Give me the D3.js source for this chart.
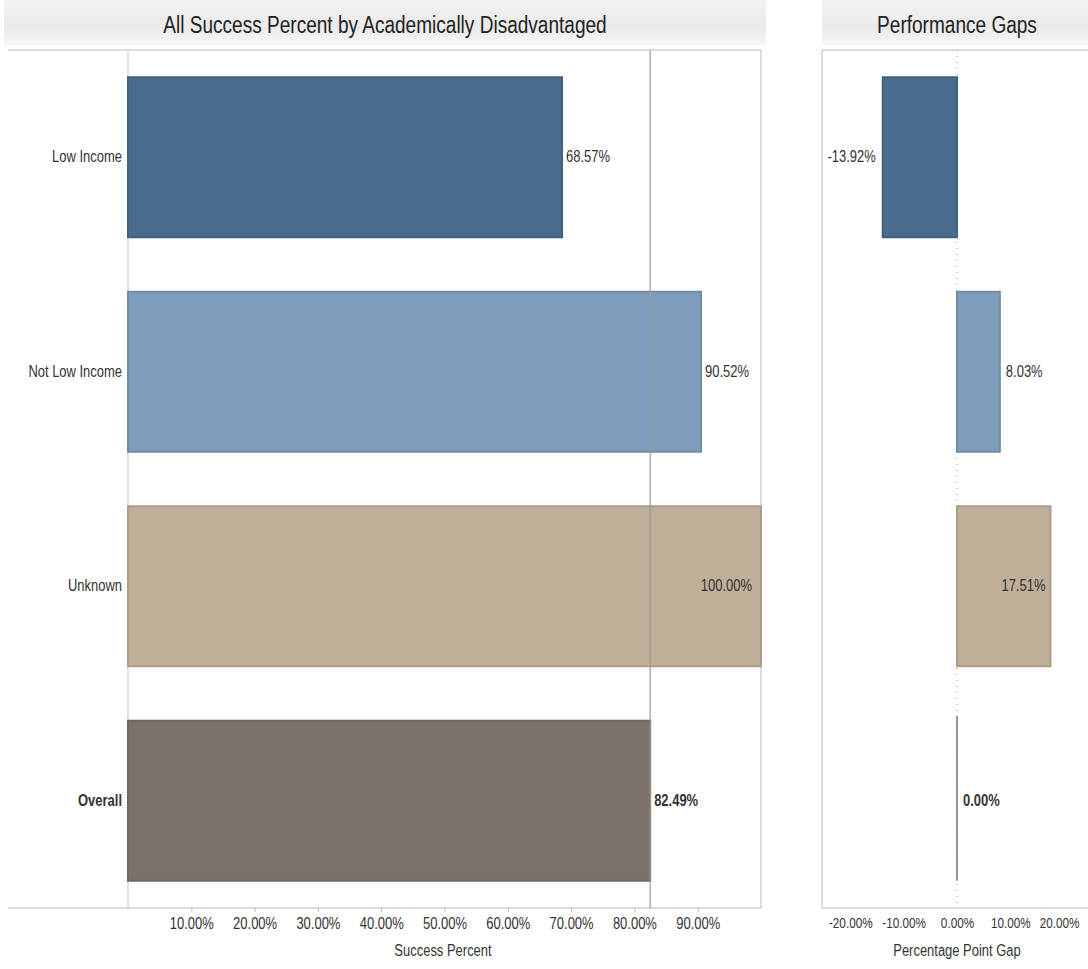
<!DOCTYPE html>
<html>
<head>
<meta charset="utf-8">
<script src="https://cdn.jsdelivr.net/npm/d3@7"></script>
<style>
  html, body { margin: 0; padding: 0; background: #fff; }
  svg { display: block; }
  text { font-family: "Liberation Sans Narrow", "Arial Narrow", "Liberation Sans", Arial, sans-serif; }
</style>
</head>
<body>
<svg id="chart" width="1088" height="969"></svg>
<script>
// ---- data ----
const categories = ["Low Income", "Not Low Income", "Unknown", "Overall"];
const successPercent = [68.57, 90.52, 100.00, 82.49];
const gapPercent = [-13.92, 8.03, 17.51, 0.00];
const barColors = ["#4b6b8c", "#7e9dba", "#bfae98", "#7c7169"];
const leftTicks = [10, 20, 30, 40, 50, 60, 70, 80, 90];
const rightTicks = [-20, -10, 0, 10, 20];
const overallValue = 82.49;

const svg = d3.select("#chart");
const fmt = v => v.toFixed(2) + "%";
const FONT = '"Liberation Sans Narrow", "Arial Narrow", "Liberation Sans", Arial, sans-serif';
const FS = 16;       // body font size
const RFS = 14.5;    // right axis tick font size
const TFS = 23.5;    // title font size
const CONDENSE = 0.81;

// defs: header gradient
const defs = svg.append("defs");
const hg = defs.append("linearGradient").attr("id", "hdr").attr("x1", 0).attr("y1", 0).attr("x2", 0).attr("y2", 1);
hg.append("stop").attr("offset", "0%").attr("stop-color", "#f3f3f3");
hg.append("stop").attr("offset", "60%").attr("stop-color", "#eaeaea");
hg.append("stop").attr("offset", "100%").attr("stop-color", "#f6f6f6");

const plotTop = 50, plotBottom = 908;
const y = d3.scaleBand().domain(categories).range([plotTop, plotBottom]).paddingInner(0.254).paddingOuter(0.127);

// ---- left panel ----
const L = { x0: 128, x1: 761, labelX0: 8 };
const xL = d3.scaleLinear().domain([0, 100]).range([L.x0, L.x1]);

svg.append("rect").attr("x", 4).attr("y", 0).attr("width", 762).attr("height", 45).attr("fill", "url(#hdr)");
svg.append("text").attr("x", 385).attr("y", 33).attr("text-anchor", "middle")
  .attr("font-size", TFS).attr("fill", "#222").text("All Success Percent by Academically Disadvantaged");

// borders
svg.append("line").attr("x1", L.labelX0).attr("x2", L.x1).attr("y1", plotTop).attr("y2", plotTop).attr("stroke", "#b8b8b8");
svg.append("line").attr("x1", L.labelX0).attr("x2", L.x1).attr("y1", plotBottom).attr("y2", plotBottom).attr("stroke", "#b8b8b8");
svg.append("line").attr("x1", L.x0).attr("x2", L.x0).attr("y1", plotTop).attr("y2", plotBottom).attr("stroke", "#c4c4c4");
svg.append("line").attr("x1", L.x1).attr("x2", L.x1).attr("y1", plotTop).attr("y2", plotBottom).attr("stroke", "#b8b8b8");

// bars
const gl = svg.append("g");
gl.selectAll("rect.bar").data(categories).join("rect").attr("class", "bar")
  .attr("x", xL(0)).attr("y", d => y(d))
  .attr("width", (d, i) => xL(successPercent[i]) - xL(0))
  .attr("height", y.bandwidth())
  .attr("fill", (d, i) => barColors[i])
  .attr("stroke", (d, i) => d3.color(barColors[i]).darker(0.3))
  .attr("stroke-width", 2);

// reference line
svg.append("line").attr("x1", xL(overallValue)).attr("x2", xL(overallValue))
  .attr("y1", plotTop).attr("y2", plotBottom).attr("stroke", "#9a9a9a").attr("stroke-width", 1.2);

// category labels
gl.selectAll("text.cat").data(categories).join("text").attr("class", "cat")
  .attr("x", L.x0 - 6).attr("y", d => y(d) + y.bandwidth() / 2 + 5)
  .attr("text-anchor", "end").attr("font-size", FS)
  .attr("font-weight", d => d === "Overall" ? "bold" : "normal")
  .attr("fill", "#333").text(d => d);

// value labels
gl.selectAll("text.val").data(categories).join("text").attr("class", "val")
  .attr("x", (d, i) => successPercent[i] >= 99 ? xL(successPercent[i]) - 9 : xL(successPercent[i]) + 4)
  .attr("text-anchor", (d, i) => successPercent[i] >= 99 ? "end" : "start")
  .attr("y", d => y(d) + y.bandwidth() / 2 + 5)
  .attr("font-size", FS)
  .attr("font-weight", d => d === "Overall" ? "bold" : "normal")
  .attr("fill", "#333").text((d, i) => fmt(successPercent[i]));

// axis
const axL = svg.append("g").attr("transform", `translate(0,${plotBottom})`)
  .call(d3.axisBottom(xL).tickValues(leftTicks).tickFormat(d => d.toFixed(2) + "%").tickSize(4).tickPadding(6));
axL.select(".domain").remove();
axL.selectAll("line").attr("stroke", "#bbb");
axL.selectAll("text").attr("font-size", FS).attr("fill", "#333").style("font-family", FONT);
svg.append("text").attr("x", 443).attr("y", 956).attr("text-anchor", "middle")
  .attr("font-size", FS).attr("fill", "#333").text("Success Percent");

// ---- right panel ----
const R = { x0: 822, x1: 1092 };
const xR = d3.scaleLinear().domain([-25.3, 25.3]).range([R.x0, R.x1]);

svg.append("rect").attr("x", 822).attr("y", 0).attr("width", 266).attr("height", 45).attr("fill", "url(#hdr)");
svg.append("text").attr("x", 957).attr("y", 33).attr("text-anchor", "middle")
  .attr("font-size", TFS).attr("fill", "#222").text("Performance Gaps");

svg.append("line").attr("x1", R.x0).attr("x2", 1088).attr("y1", plotTop).attr("y2", plotTop).attr("stroke", "#b8b8b8");
svg.append("line").attr("x1", R.x0).attr("x2", 1088).attr("y1", plotBottom).attr("y2", plotBottom).attr("stroke", "#b8b8b8");
svg.append("line").attr("x1", R.x0).attr("x2", R.x0).attr("y1", plotTop).attr("y2", plotBottom).attr("stroke", "#b8b8b8");

// zero dotted line
svg.append("line").attr("x1", xR(0)).attr("x2", xR(0)).attr("y1", plotTop).attr("y2", plotBottom)
  .attr("stroke", "#999").attr("stroke-dasharray", "1,5");

const gr = svg.append("g");
gr.selectAll("rect.bar").data(categories).join("rect").attr("class", "bar")
  .attr("x", (d, i) => xR(Math.min(0, gapPercent[i])))
  .attr("y", d => y(d))
  .attr("width", (d, i) => Math.abs(xR(gapPercent[i]) - xR(0)))
  .attr("height", y.bandwidth())
  .attr("fill", (d, i) => barColors[i])
  .attr("stroke", (d, i) => d3.color(barColors[i]).darker(0.3))
  .attr("stroke-width", 2);
// zero-width bar for Overall drawn as a line
gr.selectAll("line.zero").data(categories.filter((d, i) => gapPercent[i] === 0)).join("line")
  .attr("x1", xR(0)).attr("x2", xR(0)).attr("y1", d => y(d) - 5).attr("y2", d => y(d) + y.bandwidth())
  .attr("stroke", "#777").attr("stroke-width", 1.5);

gr.selectAll("text.val").data(categories).join("text").attr("class", "val")
  .attr("x", (d, i) => {
    const v = gapPercent[i];
    if (v < 0) return xR(v) - 7;
    if (v > 15) return xR(v) - 5;
    return xR(v) + 6;
  })
  .attr("text-anchor", (d, i) => {
    const v = gapPercent[i];
    if (v < 0) return "end";
    if (v > 15) return "end";
    return "start";
  })
  .attr("y", d => y(d) + y.bandwidth() / 2 + 5)
  .attr("font-size", FS)
  .attr("font-weight", d => d === "Overall" ? "bold" : "normal")
  .attr("fill", "#333").text((d, i) => fmt(gapPercent[i]));

const axR = svg.append("g").attr("class", "axR").attr("transform", `translate(0,${plotBottom})`)
  .call(d3.axisBottom(xR).tickValues(rightTicks).tickFormat(d => d.toFixed(2) + "%").tickSize(0).tickPadding(10));
axR.select(".domain").remove();
axR.selectAll("text").attr("font-size", RFS).attr("fill", "#333").style("font-family", FONT);
svg.append("text").attr("x", 957).attr("y", 956).attr("text-anchor", "middle")
  .attr("font-size", FS).attr("fill", "#333").text("Percentage Point Gap");

// condense all text horizontally (narrow typeface look), keeping it as real text
svg.selectAll("text").each(function () {
  const w = this.getComputedTextLength();
  d3.select(this).attr("textLength", (w * CONDENSE).toFixed(1)).attr("lengthAdjust", "spacingAndGlyphs");
});

// keep right-axis tick labels inside the picture: right-align any that would run past the edge
const maxRight = 1079;
axR.selectAll(".tick text").each(function (d) {
  const bb = this.getBoundingClientRect();
  if (bb.right > maxRight - 8) {
    d3.select(this).attr("text-anchor", "end").attr("x", maxRight - xR(d));
  }
});
</script>
</body>
</html>
